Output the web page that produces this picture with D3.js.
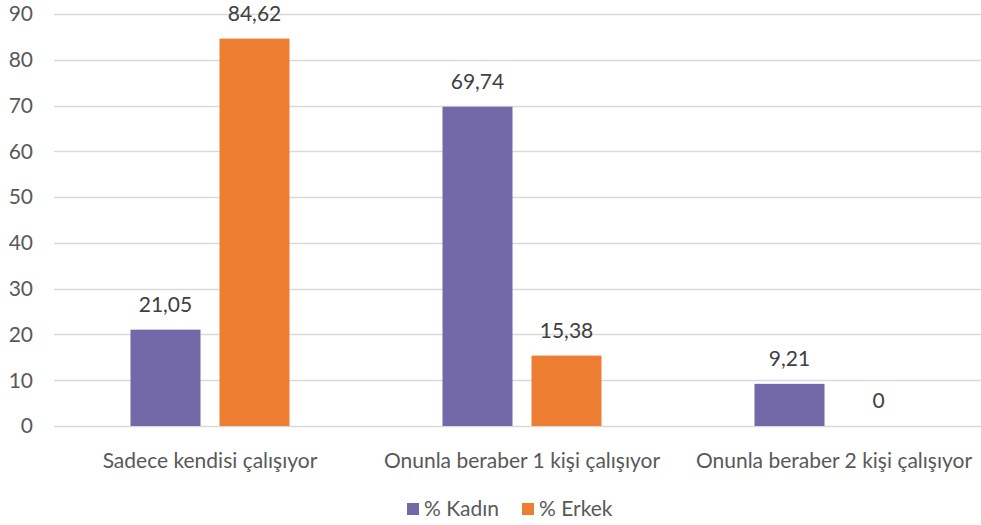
<!DOCTYPE html>
<html>
<head>
<meta charset="utf-8">
<script src="https://cdn.jsdelivr.net/npm/d3@7"></script>
<style>
  body { margin: 0; background: #fff; }
  svg text { font-family: Lato, "Open Sans", sans-serif; fill: #595959; }
</style>
</head>
<body>
<div class="main"></div>
<script>
// data
const categories = ["Sadece kendisi çalışıyor", "Onunla beraber 1 kişi çalışıyor", "Onunla beraber 2 kişi çalışıyor"]
const seriesNames = ["% Kadın", "% Erkek"]
const kadin = [21.05, 69.74, 9.21]
const erkek = [84.62, 15.38, 0]
const yTicks = [0, 10, 20, 30, 40, 50, 60, 70, 80, 90]

const colors = ["#7369a8", "#ed7d31"]
const width = 981
const height = 525
const margin = ({top: 14, right: -9, bottom: 99, left: 54})
const fontSize = "21px"

const rows = categories.map((c, i) => ({cat: c, values: [kadin[i], erkek[i]]}))

const svg = d3.select(".main").append("svg")
  .attr("width", width)
  .attr("height", height)

const y = d3.scaleLinear()
  .domain([0, 90])
  .range([height - margin.bottom, margin.top])

const x0 = d3.scaleBand()
  .domain(categories)
  .range([margin.left, width - margin.right])

// two bars per group, 70px wide with a 19px gap
const groupInset = 76.5
const x1 = d3.scaleBand()
  .domain(seriesNames)
  .range([groupInset, x0.bandwidth() - groupInset])
  .paddingInner(0.2135)

// gridlines
svg.append("g")
  .selectAll("line")
  .data(yTicks)
  .join("line")
    .attr("x1", margin.left)
    .attr("x2", width)
    .attr("y1", d => Math.round(y(d)) + 0.5)
    .attr("y2", d => Math.round(y(d)) + 0.5)
    .attr("stroke", "#d9d9d9")
    .attr("stroke-width", 1.3)

// y tick labels
svg.append("g")
  .selectAll("text")
  .data(yTicks)
  .join("text")
    .attr("x", 33)
    .attr("y", d => y(d))
    .attr("dy", "0.35em")
    .attr("text-anchor", "end")
    .attr("font-size", fontSize)
    .text(d => d)

// bars
const g = svg.append("g")
  .selectAll("g")
  .data(rows)
  .join("g")
    .attr("transform", d => `translate(${x0(d.cat)},0)`)

g.selectAll("rect")
  .data(d => d.values.map((v, i) => ({name: seriesNames[i], v, i})))
  .join("rect")
    .attr("x", d => x1(d.name))
    .attr("y", d => y(d.v))
    .attr("width", x1.bandwidth())
    .attr("height", d => y(0) - y(d.v))
    .attr("fill", d => colors[d.i])

// value labels
g.selectAll("text")
  .data(d => d.values.map((v, i) => ({name: seriesNames[i], v, i})))
  .join("text")
    .attr("x", d => x1(d.name) + x1.bandwidth() / 2)
    .attr("y", d => y(d.v) - 25)
    .attr("dy", "0.35em")
    .attr("text-anchor", "middle")
    .attr("font-size", fontSize)
    .style("fill", "#404040")
    .text(d => String(d.v).replace(".", ","))

// category labels
svg.append("g")
  .selectAll("text")
  .data(categories)
  .join("text")
    .attr("x", d => x0(d) + x0.bandwidth() / 2)
    .attr("y", 461)
    .attr("dy", "0.35em")
    .attr("text-anchor", "middle")
    .attr("font-size", fontSize)
    .text(d => d)

// legend
const legendX = [407, 522]
const legend = svg.append("g")
  .selectAll("g")
  .data(seriesNames)
  .join("g")
    .attr("transform", (d, i) => `translate(${legendX[i]}, 503)`)

legend.append("rect")
  .attr("width", 12)
  .attr("height", 12)
  .attr("fill", (d, i) => colors[i])

legend.append("text")
  .attr("x", 17)
  .attr("y", 6)
  .attr("dy", "0.35em")
  .attr("font-size", fontSize)
  .text(d => d)
</script>
</body>
</html>
